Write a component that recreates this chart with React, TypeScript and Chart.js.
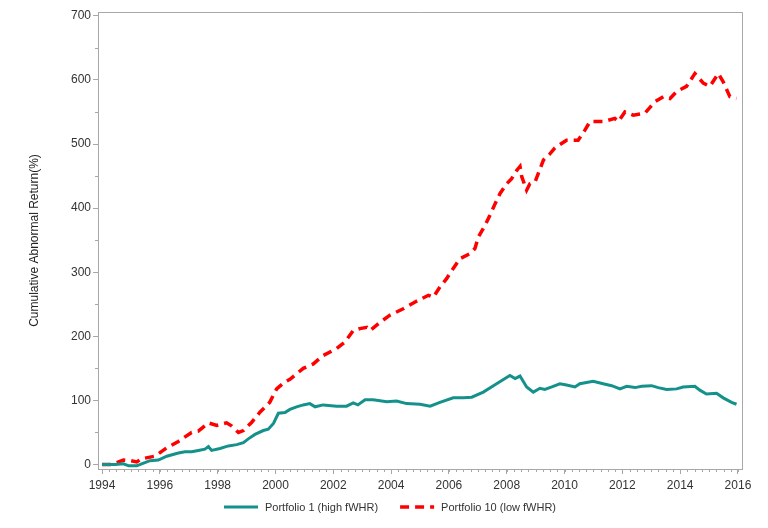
import React, { useEffect, useRef } from "react";
import { Chart, registerables } from "chart.js";

Chart.register(...registerables);

const lowYears = [1994.0, 1994.34, 1994.74, 1995.0, 1995.2, 1995.37, 1995.83, 1996.24, 1996.64, 1997.1, 1997.33, 1997.68, 1997.97, 1998.31, 1998.49, 1998.72, 1998.89, 1999.18, 1999.47, 1999.8, 2000.04, 2000.3, 2000.5, 2000.96, 2001.31, 2001.65, 2002.12, 2002.4, 2002.69, 2002.92, 2003.16, 2003.27, 2003.62, 2003.96, 2004.42, 2004.89, 2005.29, 2005.46, 2005.69, 2005.92, 2006.15, 2006.38, 2006.73, 2006.9, 2007.02, 2007.25, 2007.42, 2007.6, 2007.77, 2008.0, 2008.17, 2008.35, 2008.46, 2008.52, 2008.69, 2008.8, 2008.98, 2009.09, 2009.27, 2009.5, 2009.67, 2010.07, 2010.47, 2010.71, 2010.88, 2011.34, 2011.74, 2011.86, 2012.09, 2012.38, 2012.78, 2013.13, 2013.42, 2013.65, 2013.88, 2014.22, 2014.51, 2014.8, 2015.03, 2015.32, 2015.49, 2015.72, 2015.95];
const lowValues = [0, 0, 7, 6, 4, 9, 13, 26, 36, 50, 52, 65, 61, 65, 60, 50, 53, 66, 82, 97, 118, 128, 133, 150, 157, 170, 181, 191, 209, 212, 214, 209, 222, 233, 243, 255, 264, 261, 277, 290, 306, 321, 329, 337, 355, 373, 389, 407, 423, 438, 446, 459, 465, 449, 428, 438, 441, 454, 475, 485, 494, 506, 506, 522, 535, 535, 540, 535, 550, 545, 548, 566, 574, 571, 582, 590, 610, 595, 590, 610, 597, 574, 571];

const highYears = [1994.0, 1994.46, 1994.74, 1994.92, 1995.2, 1995.37, 1995.66, 1995.95, 1996.24, 1996.64, 1996.87, 1997.1, 1997.33, 1997.56, 1997.68, 1997.79, 1998.08, 1998.37, 1998.66, 1998.89, 1999.06, 1999.29, 1999.58, 1999.75, 1999.93, 2000.1, 2000.33, 2000.5, 2000.73, 2000.96, 2001.19, 2001.37, 2001.65, 2002.12, 2002.46, 2002.69, 2002.85, 2003.1, 2003.38, 2003.85, 2004.19, 2004.54, 2005.0, 2005.35, 2005.69, 2006.15, 2006.5, 2006.79, 2007.19, 2007.54, 2007.83, 2008.11, 2008.29, 2008.46, 2008.69, 2008.92, 2009.15, 2009.32, 2009.56, 2009.84, 2010.07, 2010.36, 2010.53, 2010.99, 2011.34, 2011.63, 2011.92, 2012.15, 2012.44, 2012.67, 2013.01, 2013.24, 2013.53, 2013.88, 2014.1, 2014.51, 2014.68, 2014.91, 2015.26, 2015.49, 2015.78, 2015.95];
const highValues = [0, 0, 1, -2, -2, 1, 6, 7, 13, 18, 20, 20, 22, 24, 28, 22, 25, 29, 31, 34, 40, 47, 53, 55, 64, 80, 81, 86, 90, 93, 95, 90, 93, 91, 91, 96, 93, 101, 101, 98, 99, 95, 94, 91, 97, 104, 104, 105, 113, 123, 131, 139, 134, 138, 121, 113, 119, 117, 121, 126, 124, 121, 126, 130, 126, 123, 118, 122, 120, 122, 123, 120, 117, 118, 121, 122, 116, 110, 111, 104, 97, 94];

const xTickYears = [1994, 1996, 1998, 2000, 2002, 2004, 2006, 2008, 2010, 2012, 2014, 2016];
const yTickValues = [0, 100, 200, 300, 400, 500, 600, 700];
const seriesLabels = ["Portfolio 1 (high fWHR)", "Portfolio 10 (low fWHR)"];

const AXIS_COLOR = "#a8a8a8";
const TEXT_COLOR = "#333333";
const FONT = "Liberation Sans, Arial, sans-serif";

const framePlugin = {
  id: "frameAndMinor",
  afterDraw(chart: any) {
    const { ctx, chartArea, scales } = chart;
    ctx.save();
    ctx.strokeStyle = AXIS_COLOR;
    ctx.lineWidth = 1;
    ctx.beginPath();
    ctx.moveTo(chartArea.left, chartArea.top + 0.5);
    ctx.lineTo(chartArea.right + 0.5, chartArea.top + 0.5);
    ctx.lineTo(chartArea.right + 0.5, chartArea.bottom);
    ctx.stroke();
    const xs = scales.x;
    ctx.beginPath();
    for (let q = 1994; q <= 2016.001; q += 0.25) {
      const px = Math.round(xs.getPixelForValue(q)) + 0.5;
      ctx.moveTo(px, chartArea.bottom);
      ctx.lineTo(px, chartArea.bottom + 3);
    }
    const ys = scales.y;
    for (let v = 50; v <= 650; v += 100) {
      const py = Math.round(ys.getPixelForValue(v)) + 0.5;
      ctx.moveTo(chartArea.left, py);
      ctx.lineTo(chartArea.left - 3, py);
    }
    ctx.stroke();

    // legend from dataset styles
    const ds = chart.data.datasets;
    ctx.font = "11px " + FONT;
    ctx.textBaseline = "middle";
    ctx.fillStyle = TEXT_COLOR;
    const lineW = 34;
    const gapText = 7;
    const gapItem = 22;
    const widths = ds.map((d: any) => ctx.measureText(d.label).width);
    const total = ds.length * (lineW + gapText) + widths.reduce((a: number, b: number) => a + b, 0) + gapItem * (ds.length - 1);
    let x = 390 - total / 2;
    const y = 507;
    ds.forEach((d: any, i: number) => {
      ctx.save();
      ctx.strokeStyle = d.borderColor;
      ctx.lineWidth = d.borderWidth;
      ctx.setLineDash(d.borderDash || []);
      ctx.beginPath();
      ctx.moveTo(x, y);
      ctx.lineTo(x + lineW, y);
      ctx.stroke();
      ctx.restore();
      x += lineW + gapText;
      ctx.fillText(d.label, x, y + 0.5);
      x += widths[i] + gapItem;
    });
    ctx.restore();
  },
};

export default function App() {
  const ref = useRef<HTMLCanvasElement | null>(null);
  useEffect(() => {
    if (!ref.current) return;
    const highData = highYears.map((x, i) => ({ x, y: highValues[i] }));
    const lowData = lowYears.map((x, i) => ({ x, y: lowValues[i] }));
    const chart = new Chart(ref.current, {
      type: "line",
      data: {
        datasets: [
          {
            label: seriesLabels[0],
            data: highData,
            borderColor: "#14918a",
            backgroundColor: "#14918a",
            borderWidth: 3,
            pointRadius: 0,
            tension: 0,
          },
          {
            label: seriesLabels[1],
            data: lowData,
            borderColor: "#ff0000",
            backgroundColor: "#ff0000",
            borderWidth: 3.5,
            borderDash: [9, 6],
            pointRadius: 0,
            tension: 0,
          },
        ],
      },
      plugins: [framePlugin],
      options: {
        animation: false,
        responsive: false,
        maintainAspectRatio: false,
        layout: { padding: { left: 0, right: 26, top: 12, bottom: 29 } },
        plugins: {
          tooltip: { enabled: false },
          legend: { display: false },
        },
        scales: {
          x: {
            type: "linear",
            min: 1993.86,
            max: 2016.14,
            afterBuildTicks: (s: any) => {
              s.ticks = xTickYears.map((v) => ({ value: v }));
            },
            afterFit: (s: any) => {
              s.height = 30;
            },
            border: { color: AXIS_COLOR, width: 1 },
            grid: { display: true, drawOnChartArea: false, drawTicks: true, tickLength: 5, tickColor: AXIS_COLOR },
            ticks: {
              color: TEXT_COLOR,
              font: { family: FONT, size: 12 },
              padding: 4,
              maxRotation: 0,
              autoSkip: false,
              callback: (v: any) => String(v),
            },
          },
          y: {
            type: "linear",
            min: -7,
            max: 706,
            afterBuildTicks: (s: any) => {
              s.ticks = yTickValues.map((v) => ({ value: v }));
            },
            afterFit: (s: any) => {
              s.width = 98;
            },
            border: { color: AXIS_COLOR, width: 1 },
            grid: { display: true, drawOnChartArea: false, drawTicks: true, tickLength: 5, tickColor: AXIS_COLOR },
            title: {
              display: true,
              text: "Cumulative Abnormal Return(%)",
              color: "#222222",
              font: { family: FONT, size: 12 },
              padding: { top: 27, bottom: 0 },
            },
            ticks: {
              color: TEXT_COLOR,
              font: { family: FONT, size: 12 },
              padding: 2,
              autoSkip: false,
              callback: (v: any) => String(v),
            },
          },
        },
      },
    });
    return () => chart.destroy();
  }, []);
  return (
    <div style={{ position: "fixed", left: 0, top: 0, width: 768, height: 528, background: "#fff" }}>
      <canvas ref={ref} width={768} height={528} style={{ width: 768, height: 528 }} />
    </div>
  );
}
